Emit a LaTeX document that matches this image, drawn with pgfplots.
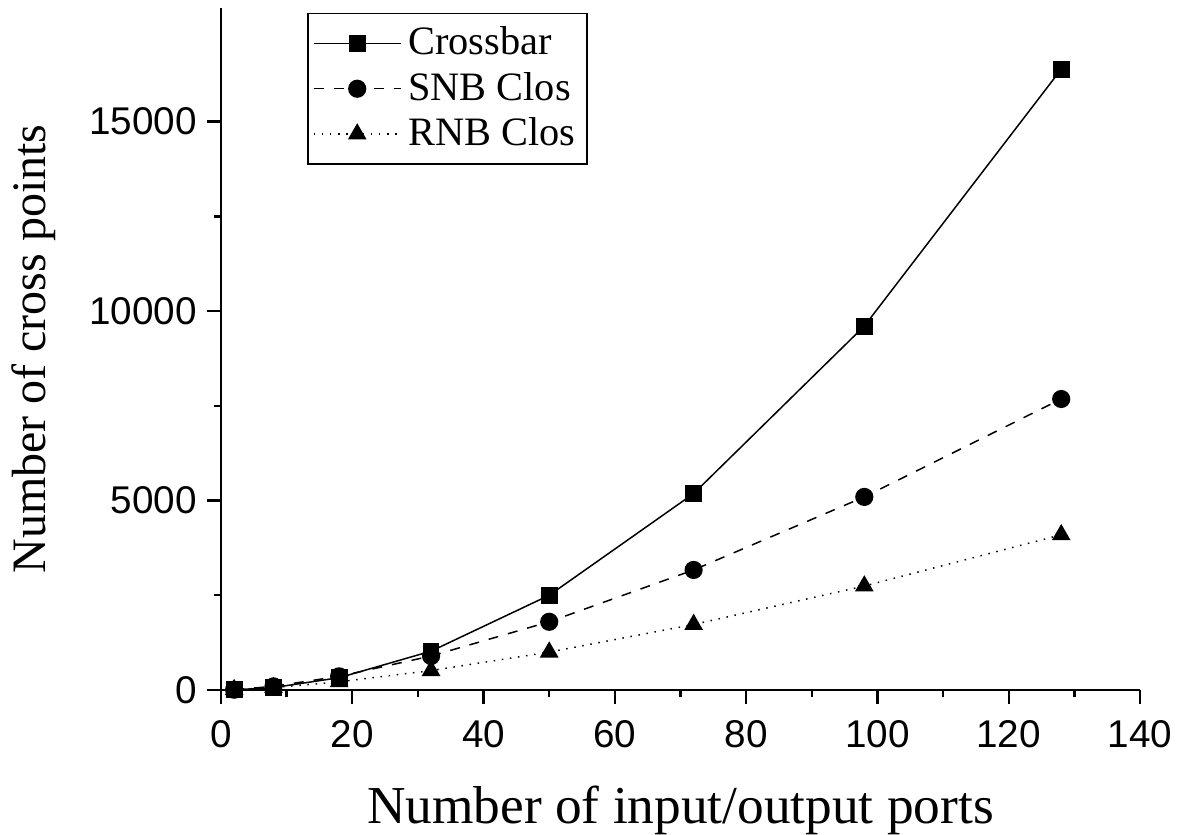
\documentclass[border=0pt]{standalone}
\usepackage{fontspec}
\setmainfont{Liberation Serif}
\newfontfamily\ticksf{Liberation Sans}
\usepackage{pgfplots}
\pgfplotsset{compat=1.18}
\begin{document}
\begin{tikzpicture}[x=1pt,y=1pt]
\path[use as bounding box] (-66.3,-43.5) rectangle (286.8,207);
\begin{axis}[
  at={(0,0)}, anchor=origin,
  scale only axis,
  width=275.7pt, height=204.6pt,
  xmin=0, xmax=140, ymin=0, ymax=18000,
  axis lines=left,
  axis line style={line width=0.8pt, -},
  xtick={0,20,...,140},
  ytick={0,5000,10000,15000},
  minor x tick num=1,
  minor y tick num=1,
  tick align=outside,
  major tick length=4.2pt,
  minor tick length=2.2pt,
  tick style={line width=0.7pt, black},
  scaled ticks=false,
  /pgf/number format/1000 sep={},
  /pgf/number format/assume math mode=true,
  ticklabel style={font=\ticksf\fontsize{11.6}{13}\selectfont},
  xticklabel style={yshift=-1.5pt},
  yticklabel style={xshift=0.5pt},
  xlabel={Number of input/output ports},
  ylabel={Number of cross points},
  xlabel style={font=\fontsize{16}{18}\selectfont, yshift=-4.6pt},
  ylabel style={font=\fontsize{14.4}{16}\selectfont, yshift=3.2pt},
  legend style={at={(0.0936,0.993)}, anchor=north west, draw=black, line width=0.5pt,
    font=\fontsize{12.1}{14}\selectfont, row sep=-0.3pt, inner sep=2pt, inner xsep=1.5pt,
    /tikz/every even column/.append style={column sep=0.5pt}},
  legend image code/.code={\draw[mark repeat=2,mark phase=2] plot coordinates {(0cm,0cm) (0.46cm,0cm) (0.92cm,0cm)};},
  legend cell align=left,
  clip=false,
]
\addplot[black, line width=0.45pt, mark=square*, mark size=2.3pt, mark options={solid}]
  coordinates {(2,4) (8,64) (18,324) (32,1024) (50,2500) (72,5184) (98,9604) (128,16384)};
\addlegendentry{Crossbar}
\addplot[black, line width=0.45pt, dashed, mark=*, mark size=2.5pt, mark options={solid}]
  coordinates {(2,8) (8,96) (18,360) (32,896) (50,1800) (72,3168) (98,5096) (128,7680)};
\addlegendentry{SNB Clos}
\addplot[black, line width=0.45pt, dotted, mark=triangle*, mark size=2.8pt, mark options={solid}]
  coordinates {(2,8) (8,64) (18,216) (32,512) (50,1000) (72,1728) (98,2744) (128,4096)};
\addlegendentry{RNB Clos}
\end{axis}
\end{tikzpicture}
\end{document}
